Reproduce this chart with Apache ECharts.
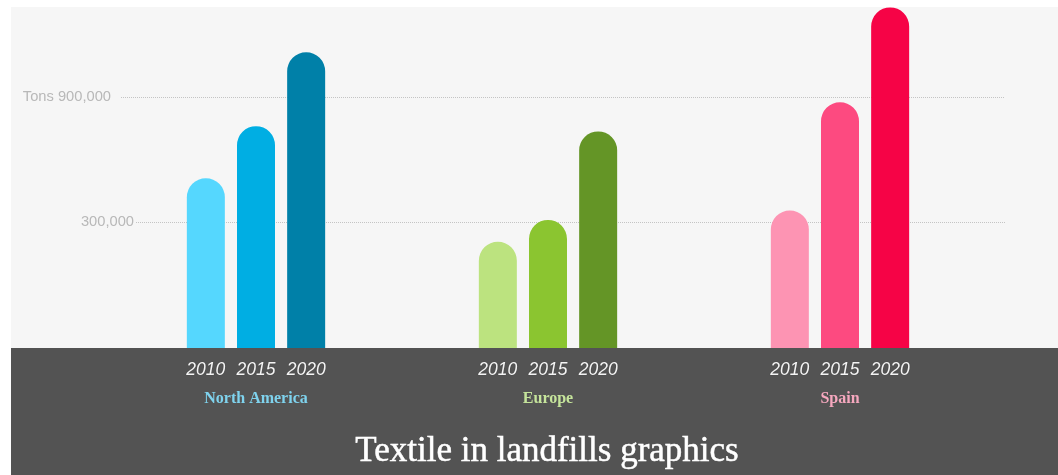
<!DOCTYPE html>
<html>
<head>
<meta charset="utf-8">
<script src="https://cdn.jsdelivr.net/npm/echarts@6/dist/echarts.min.js"></script>
<style>
html,body{margin:0;padding:0;background:#ffffff;}
#c{width:1058px;height:475px;}
</style>
</head>
<body>
<div id="c"></div>
<script>
var categories = ['North America', 'Europe', 'Spain'];
var years = ['2010', '2015', '2020'];
var values2010 = [510000, 205000, 355000];
var values2015 = [760000, 310000, 875000];
var values2020 = [1115000, 735000, 1330000];
var tickValues = [900000, 300000];
var tickLabels = ['Tons 900,000', '300,000'];
var chartTitle = 'Textile in landfills graphics';

var barColors = [
  ['#55d7fe', '#bce37f', '#fd94b3'],
  ['#00aee3', '#8bc530', '#fd4a80'],
  ['#0080a8', '#649526', '#f60346']
];
var catColors = ['#7fd3ee', '#c5e49b', '#f6a8bf'];
var series_values = [values2010, values2015, values2020];

var chart = echarts.init(document.getElementById('c'));

var gridTop = 7, gridBottomPx = 348;
var yMin = -304800, yMax = 1332000;

var series = years.map(function (yr, si) {
  return {
    type: 'bar',
    name: yr,
    barWidth: 38,
    barGap: '32%',
    data: series_values[si].map(function (v, ci) {
      return { value: v, itemStyle: { color: barColors[si][ci], borderRadius: [19, 19, 0, 0] } };
    }),
    label: {
      show: true,
      position: 'bottom',
      distance: 13,
      formatter: yr,
      fontFamily: 'Liberation Sans, Arial, sans-serif',
      fontStyle: 'italic',
      fontSize: 17.5,
      color: '#f4f4f4',
      textShadowColor: 'rgba(0,0,0,0.35)',
      textShadowBlur: 1
    },
    emphasis: { disabled: true },
    z: 3
  };
});

chart.setOption({
  animation: false,
  backgroundColor: '#ffffff',
  graphic: [
    { type: 'rect', z: -10, silent: true, shape: { x: 11, y: 7, width: 1047, height: 341 }, style: { fill: '#f6f6f6' } },
    { type: 'rect', z: -9, silent: true, shape: { x: 11, y: 348, width: 1047, height: 127 }, style: { fill: '#535353' } },
    { type: 'text', z: 10, silent: true, x: 547, y: 452,
      style: { text: chartTitle, fill: '#ffffff', stroke: '#ffffff', lineWidth: 0.5, font: '35px "Liberation Serif", "DejaVu Serif", serif', align: 'center', verticalAlign: 'middle' } }
  ],
  grid: { left: 110, right: 72, top: gridTop, bottom: 475 - gridBottomPx, containLabel: false },
  xAxis: {
    type: 'category',
    data: categories,
    z: 10,
    axisLine: { show: false },
    axisTick: { show: false },
    axisLabel: {
      margin: 43,
      formatter: function (v, i) { return '{c' + i + '|' + v + '}'; },
      rich: {
        c0: { color: catColors[0], fontFamily: 'Liberation Serif', fontWeight: 'bold', fontSize: 16 },
        c1: { color: catColors[1], fontFamily: 'Liberation Serif', fontWeight: 'bold', fontSize: 16 },
        c2: { color: catColors[2], fontFamily: 'Liberation Serif', fontWeight: 'bold', fontSize: 16 }
      }
    }
  },
  yAxis: {
    type: 'value',
    min: yMin,
    max: yMax,
    startValue: yMin,
    splitLine: { show: false },
    axisLabel: { show: false },
    axisLine: { show: false },
    axisTick: { show: false }
  },
  series: series
});

// gridlines: positions derived from the value axis scale
var lineStarts = [121, 136];
var lineEnd = 1005;
var labelDist = [10, 2];
var mlData = tickValues.map(function (tv, i) {
  var py = chart.convertToPixel({ yAxisIndex: 0 }, tv);
  return [
    { x: lineStarts[i], y: py, label: { formatter: tickLabels[i], distance: labelDist[i] } },
    { x: lineEnd, y: py }
  ];
});
chart.setOption({
  series: [{
    markLine: {
      silent: true,
      symbol: ['none', 'none'],
      lineStyle: { type: 'dotted', color: '#c4c4c4', width: 1 },
      label: { show: true, position: 'start', color: '#b8b8b8', fontSize: 14.7, fontFamily: 'Liberation Sans, Arial, sans-serif' },
      data: mlData,
      z: 1
    }
  }]
});
</script>
</body>
</html>
